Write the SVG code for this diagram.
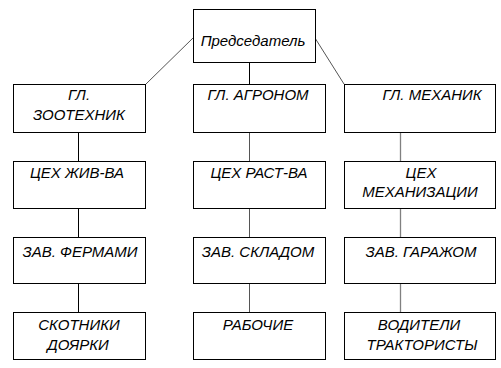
<svg xmlns="http://www.w3.org/2000/svg" width="501" height="368" viewBox="0 0 501 368">
<style>
.box{fill:#fff;stroke:#000;stroke-width:1}
.t{font-family:"Liberation Sans",Arial,sans-serif;font-style:italic;font-size:15px;fill:#000;text-anchor:middle}
.c{stroke:#000;stroke-width:1;fill:none}
.g{stroke:#808080;stroke-width:1.3;fill:none}
.d{stroke:#555;stroke-width:1;fill:none}
</style>
<rect width="501" height="368" fill="#fff"/>
<g id="connectors">
<line class="d" x1="193" y1="38" x2="146" y2="84"/>
<line class="d" x1="315" y1="38" x2="344" y2="84"/>
<line class="c" x1="249.5" y1="62" x2="249.5" y2="84"/>
<line class="c" x1="78.5" y1="132" x2="78.5" y2="161"/>
<line class="c" x1="78.5" y1="208" x2="78.5" y2="237"/>
<line class="c" x1="78.5" y1="283" x2="78.5" y2="312"/>
<line class="d" x1="249.5" y1="132" x2="249.5" y2="161"/>
<line class="d" x1="249.5" y1="208" x2="249.5" y2="237"/>
<line class="d" x1="249.5" y1="283" x2="249.5" y2="312"/>
<line class="g" x1="400.5" y1="132" x2="400.5" y2="161"/>
<line class="g" x1="400.5" y1="208" x2="400.5" y2="237"/>
<line class="g" x1="400.5" y1="283" x2="400.5" y2="312"/>
</g>
<g id="chair"><rect class="box" x="193.5" y="9.5" width="122" height="53"/><text class="t" x="253" y="46">Председатель</text></g>
<g id="zootech"><rect class="box" x="13.5" y="84.5" width="132" height="48"/><text class="t" x="79" y="100">ГЛ.</text><text class="t" x="79" y="120">ЗООТЕХНИК</text></g>
<g id="agronom"><rect class="box" x="193.5" y="84.5" width="132" height="48"/><text class="t" x="258" y="100">ГЛ. АГРОНОМ</text></g>
<g id="mechanic"><rect class="box" x="344.5" y="84.5" width="151" height="48"/><text class="t" x="432" y="100">ГЛ. МЕХАНИК</text></g>
<g id="ceh1"><rect class="box" x="13.5" y="161.5" width="132" height="47"/><text class="t" x="77" y="178">ЦЕХ ЖИВ-ВА</text></g>
<g id="ceh2"><rect class="box" x="193.5" y="161.5" width="132" height="47"/><text class="t" x="259" y="178">ЦЕХ РАСТ-ВА</text></g>
<g id="ceh3"><rect class="box" x="344.5" y="161.5" width="151" height="47"/><text class="t" x="421" y="178">ЦЕХ</text><text class="t" x="420" y="197">МЕХАНИЗАЦИИ</text></g>
<g id="zav1"><rect class="box" x="13.5" y="237.5" width="132" height="46"/><text class="t" x="80" y="257">ЗАВ. ФЕРМАМИ</text></g>
<g id="zav2"><rect class="box" x="193.5" y="237.5" width="132" height="46"/><text class="t" x="258" y="257">ЗАВ. СКЛАДОМ</text></g>
<g id="zav3"><rect class="box" x="344.5" y="237.5" width="151" height="46"/><text class="t" x="421" y="257">ЗАВ. ГАРАЖОМ</text></g>
<g id="workers1"><rect class="box" x="13.5" y="312.5" width="132" height="47"/><text class="t" x="79" y="330">СКОТНИКИ</text><text class="t" x="78" y="350">ДОЯРКИ</text></g>
<g id="workers2"><rect class="box" x="193.5" y="312.5" width="132" height="47"/><text class="t" x="258" y="330">РАБОЧИЕ</text></g>
<g id="workers3"><rect class="box" x="344.5" y="312.5" width="151" height="47"/><text class="t" x="419" y="330">ВОДИТЕЛИ</text><text class="t" x="422" y="350">ТРАКТОРИСТЫ</text></g>
</svg>
